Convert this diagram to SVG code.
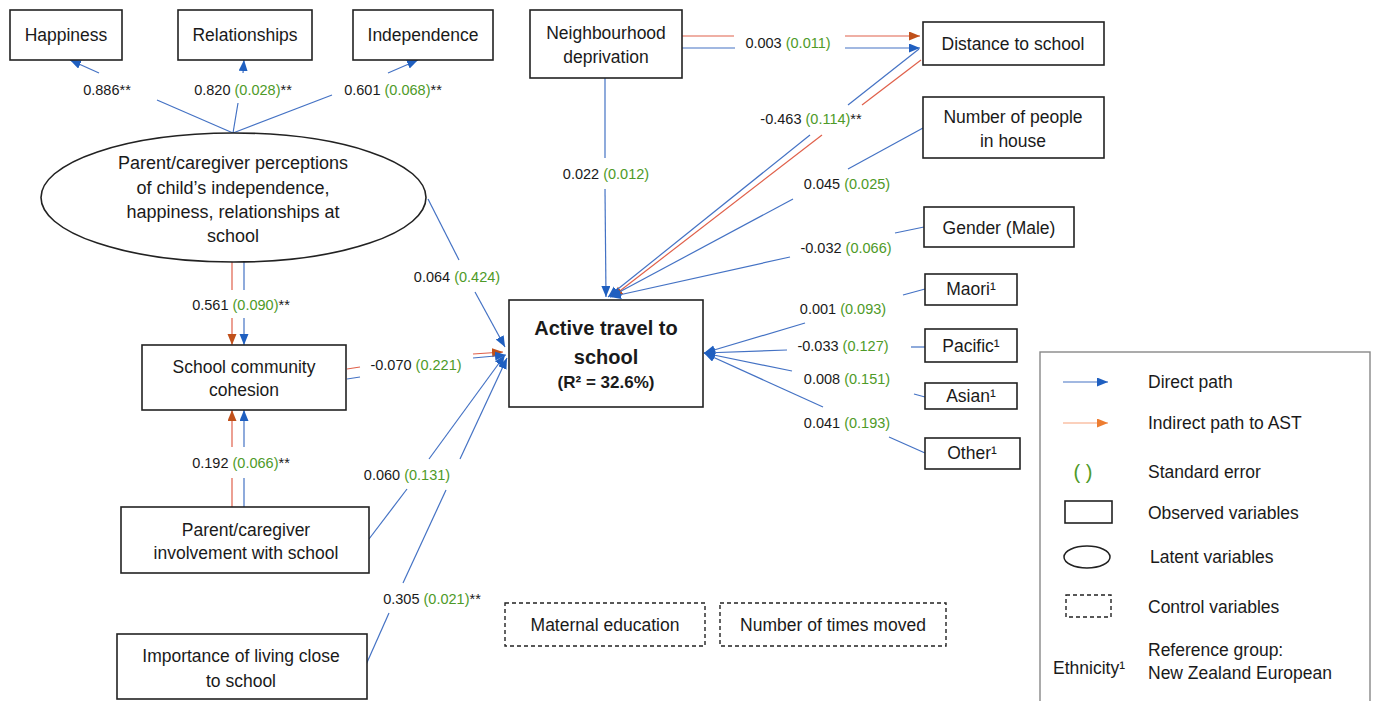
<svg xmlns="http://www.w3.org/2000/svg" width="1376" height="701" viewBox="0 0 1376 701">
<style>
text{font-family:"Liberation Sans",Arial,sans-serif;fill:#1a1a1a}
.n{font-size:17.5px;text-anchor:middle}
.e{font-size:18px;text-anchor:middle}
.lbl{font-size:14.5px;text-anchor:middle}
.se{fill:#4e9a28}
.leg{font-size:17.5px}
.box{fill:#fff;stroke:#222;stroke-width:1.6}
.dash{fill:#fff;stroke:#222;stroke-width:1.4;stroke-dasharray:4 3}
.b{stroke:#4472c4;stroke-width:1.2;fill:none}
.r{stroke:#e0604a;stroke-width:1.2;fill:none}
.bm{marker-end:url(#ab)}
.rm{marker-end:url(#ar)}
</style>
<defs>
<marker id="ab" markerUnits="userSpaceOnUse" markerWidth="12" markerHeight="10" refX="11" refY="4.5" orient="auto"><path d="M0,0 L11,4.5 L0,9 z" fill="#1f5fc0"/></marker>
<marker id="ar" markerUnits="userSpaceOnUse" markerWidth="12" markerHeight="10" refX="11" refY="4.5" orient="auto"><path d="M0,0 L11,4.5 L0,9 z" fill="#c0501a"/></marker>
<marker id="ao" markerUnits="userSpaceOnUse" markerWidth="12" markerHeight="10" refX="11" refY="4.5" orient="auto"><path d="M0,0 L11,4.5 L0,9 z" fill="#ed7d31"/></marker>
</defs>
<rect width="1376" height="701" fill="#fff"/>

<g id="connectors">
<path class="b" d="M233,133 L157,100"/><path class="b bm" d="M99,73 L70,60"/>
<path class="b" d="M233,133 L238,103"/><path class="b bm" d="M243,73 L244,60"/>
<path class="b" d="M233,133 L332,95"/><path class="b bm" d="M388,73 L418,60"/>
<path class="r" d="M682,36 L734,36"/><path class="r rm" d="M845,36 L920,36"/>
<path class="b" d="M682,48 L735,48"/><path class="b bm" d="M845,48 L920,48"/>
<path class="b" d="M605,78 L605,158"/><path class="b bm" d="M605,189 L606,297"/>
<path class="r" d="M921,60 L862,105"/><path class="r rm" d="M822,135 L612,297"/>
<path class="b" d="M919,49 L848,105"/><path class="b bm" d="M810,135 L608,297"/>
<path class="b" d="M923,128 L848,169"/><path class="b bm" d="M793,199 L610,297"/>
<path class="b" d="M924,227 L895,233"/><path class="b bm" d="M790,257 L610,297"/>
<path class="b" d="M925,289 L903,295"/><path class="b bm" d="M805,323 L704,353"/>
<path class="b" d="M925,347 L911,347"/><path class="b bm" d="M787,350 L704,353"/>
<path class="b" d="M925,397 L914,394"/><path class="b bm" d="M792,371 L704,353"/>
<path class="b" d="M925,453 L889,437"/><path class="b bm" d="M823,407 L704,353"/>
<path class="b" d="M428,199 L459,260"/><path class="b bm" d="M475,292 L505,347"/>
<path class="r" d="M232,262 L232,290"/><path class="r rm" d="M232,318 L232,345"/>
<path class="b" d="M244,262 L244,290"/><path class="b bm" d="M244,318 L244,345"/>
<path class="r" d="M347,369 L360,367"/><path class="r rm" d="M473,354 L503,352"/>
<path class="b" d="M347,379 L360,377"/><path class="b bm" d="M473,358 L506,355"/>
<path class="r" d="M232,507 L232,478"/><path class="r rm" d="M232,447 L232,410"/>
<path class="b" d="M244,507 L244,478"/><path class="b bm" d="M244,447 L244,410"/>
<path class="b" d="M369,539 L407,489"/><path class="b bm" d="M429,459 L505,355"/>
<path class="b" d="M365,667 L389,613"/><path class="b" d="M403,583 L446,490"/><path class="b bm" d="M460,459 L507,358"/>
</g>

<g id="labels">
<text class="lbl" x="107" y="95">0.886**</text>
<text class="lbl" x="243" y="95">0.820 <tspan class="se">(0.028)</tspan>**</text>
<text class="lbl" x="393" y="95">0.601 <tspan class="se">(0.068)</tspan>**</text>
<text class="lbl" x="788" y="48">0.003 <tspan class="se">(0.011)</tspan></text>
<text class="lbl" x="606" y="179">0.022 <tspan class="se">(0.012)</tspan></text>
<text class="lbl" x="811" y="124">-0.463 <tspan class="se">(0.114)</tspan>**</text>
<text class="lbl" x="847" y="189">0.045 <tspan class="se">(0.025)</tspan></text>
<text class="lbl" x="846" y="253">-0.032 <tspan class="se">(0.066)</tspan></text>
<text class="lbl" x="843" y="314">0.001 <tspan class="se">(0.093)</tspan></text>
<text class="lbl" x="843" y="351">-0.033 <tspan class="se">(0.127)</tspan></text>
<text class="lbl" x="847" y="384">0.008 <tspan class="se">(0.151)</tspan></text>
<text class="lbl" x="847" y="428">0.041 <tspan class="se">(0.193)</tspan></text>
<text class="lbl" x="457" y="282">0.064 <tspan class="se">(0.424)</tspan></text>
<text class="lbl" x="241" y="310">0.561 <tspan class="se">(0.090)</tspan>**</text>
<text class="lbl" x="416" y="370">-0.070 <tspan class="se">(0.221)</tspan></text>
<text class="lbl" x="241" y="468">0.192 <tspan class="se">(0.066)</tspan>**</text>
<text class="lbl" x="407" y="480">0.060 <tspan class="se">(0.131)</tspan></text>
<text class="lbl" x="432" y="604">0.305 <tspan class="se">(0.021)</tspan>**</text>
</g>

<g id="happiness"><rect class="box" x="10" y="10" width="112" height="50"/><text class="n" x="66" y="41">Happiness</text></g>
<g id="relationships"><rect class="box" x="178" y="10" width="134" height="50"/><text class="n" x="245" y="41">Relationships</text></g>
<g id="independence"><rect class="box" x="353" y="10" width="140" height="50"/><text class="n" x="423" y="41">Independence</text></g>
<g id="perceptions"><ellipse cx="233.5" cy="197.5" rx="192.5" ry="64.5" fill="#fff" stroke="#222" stroke-width="1.6"/>
<text class="e" x="233" y="169">Parent/caregiver perceptions</text>
<text class="e" x="233" y="194">of child’s independence,</text>
<text class="e" x="233" y="218">happiness, relationships at</text>
<text class="e" x="233" y="242">school</text></g>
<g id="neighbourhood"><rect class="box" x="530" y="10" width="152" height="68"/><text class="n" x="606" y="39">Neighbourhood</text><text class="n" x="606" y="63">deprivation</text></g>
<g id="distance"><rect class="box" x="923" y="22" width="181" height="43"/><text class="n" x="1013" y="50">Distance to school</text></g>
<g id="people"><rect class="box" x="923" y="97" width="181" height="61"/><text class="n" x="1013" y="123">Number of people</text><text class="n" x="1013" y="147">in house</text></g>
<g id="gender"><rect class="box" x="924" y="207" width="150" height="40"/><text class="n" x="999" y="234">Gender (Male)</text></g>
<g id="maori"><rect class="box" x="925" y="274" width="92" height="31"/><text class="n" x="971" y="295">Maori¹</text></g>
<g id="pacific"><rect class="box" x="925" y="329" width="92" height="33"/><text class="n" x="971" y="352">Pacific¹</text></g>
<g id="asian"><rect class="box" x="925" y="383" width="92" height="26"/><text class="n" x="971" y="402">Asian¹</text></g>
<g id="other"><rect class="box" x="925" y="438" width="95" height="31"/><text class="n" x="972" y="459">Other¹</text></g>
<g id="scc"><rect class="box" x="142" y="345" width="204" height="65"/><text class="n" x="244" y="373">School community</text><text class="n" x="244" y="396">cohesion</text></g>
<g id="active"><rect class="box" x="509" y="300" width="194" height="107"/>
<text x="606" y="335" style="font-size:20px;font-weight:bold;text-anchor:middle">Active travel to</text>
<text x="606" y="364" style="font-size:20px;font-weight:bold;text-anchor:middle">school</text>
<text x="606" y="388" style="font-size:17px;font-weight:bold;text-anchor:middle">(R² = 32.6%)</text></g>
<g id="involvement"><rect class="box" x="121" y="507" width="248" height="66"/><text class="n" x="246" y="536">Parent/caregiver</text><text class="n" x="246" y="559">involvement with school</text></g>
<g id="importance"><rect class="box" x="117" y="634" width="250" height="65"/><text class="n" x="241" y="662">Importance of living close</text><text class="n" x="241" y="687">to school</text></g>
<g id="maternal"><rect class="dash" x="505" y="603" width="200" height="43"/><text class="n" x="605" y="631">Maternal education</text></g>
<g id="moved"><rect class="dash" x="720" y="603" width="226" height="43"/><text class="n" x="833" y="631">Number of times moved</text></g>

<g id="legend">
<rect x="1040" y="352" width="330" height="360" fill="#fff" stroke="#888" stroke-width="1.4"/>
<line x1="1063" y1="382" x2="1108" y2="382" stroke="#4472c4" stroke-width="1.2" marker-end="url(#ab)"/>
<text class="leg" x="1148" y="388">Direct path</text>
<line x1="1063" y1="423" x2="1108" y2="423" stroke="#f7a27a" stroke-width="1.2" marker-end="url(#ao)"/>
<text class="leg" x="1148" y="429">Indirect path to AST</text>
<text x="1083" y="479" style="font-size:20px;text-anchor:middle;fill:#4e9a28">(  )</text>
<text class="leg" x="1148" y="478">Standard error</text>
<rect class="box" x="1065" y="501" width="47" height="22"/>
<text class="leg" x="1148" y="519">Observed variables</text>
<ellipse cx="1087" cy="557" rx="23" ry="11" fill="#fff" stroke="#222" stroke-width="1.5"/>
<text class="leg" x="1150" y="563">Latent variables</text>
<rect class="dash" x="1066" y="595" width="45" height="22"/>
<text class="leg" x="1148" y="613">Control variables</text>
<text class="leg" x="1053" y="674">Ethnicity¹</text>
<text class="leg" x="1148" y="656">Reference group:</text>
<text class="leg" x="1148" y="679">New Zealand European</text>
</g>
</svg>
